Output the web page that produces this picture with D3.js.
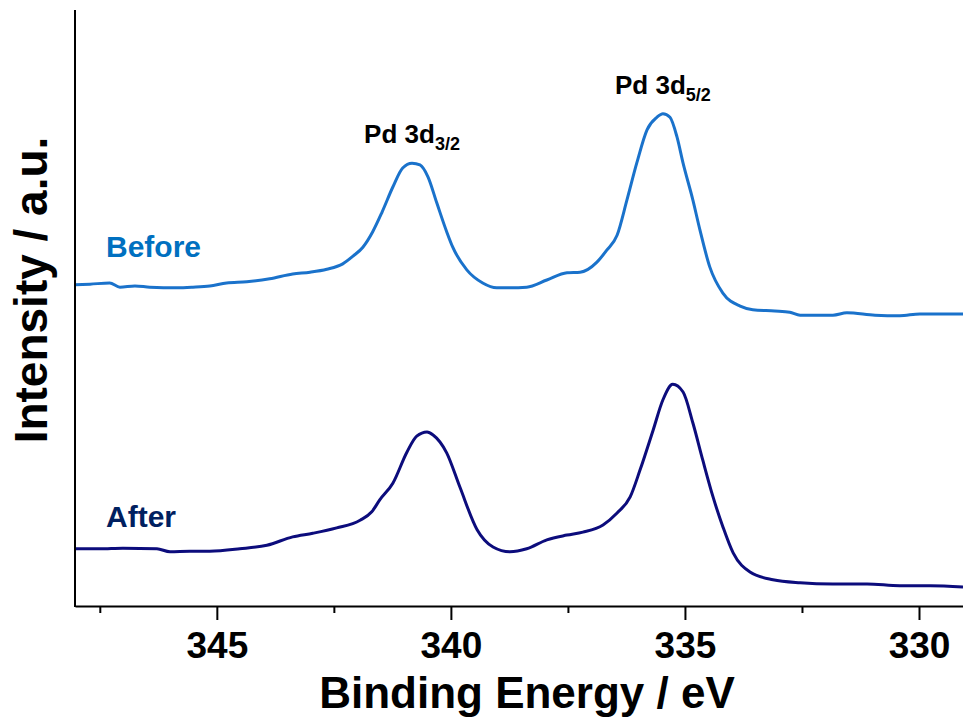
<!DOCTYPE html>
<html>
<head>
<meta charset="utf-8">
<script src="https://cdn.jsdelivr.net/npm/d3@7"></script>
<style>
  html, body { margin: 0; padding: 0; background: #fff; }
  svg text { font-family: "Liberation Sans", Arial, sans-serif; font-weight: bold; }
</style>
</head>
<body>
<div id="chart"></div>
<script>
// Pd 3d XPS spectra, before / after (binding energy in eV, intensity a.u.)
const beforeEnergy = [348.03, 347.71, 347.29, 347.07, 346.75, 346.43, 345.85, 345.51, 345.15, 344.79,
  344.36, 343.87, 343.38, 343.01, 342.65, 342.31, 342.09, 341.88, 341.67, 341.47,
  341.24, 341.03, 340.83, 340.66, 340.49, 340.30, 340.09, 339.96, 339.66, 339.32,
  339.02, 338.74, 338.38, 337.95, 337.52, 337.24, 336.88, 336.67, 336.45, 336.24,
  336.03, 335.81, 335.60, 335.47, 335.32, 335.17, 335.04, 334.83, 334.68, 334.47,
  334.19, 333.82, 333.55, 333.08, 332.76, 332.54, 331.84, 331.54, 330.94, 330.41,
  329.98, 329.44, 329.06];
const beforeIntensity = [53.9, 54.0, 54.2, 53.5, 53.7, 53.5, 53.4, 53.5, 53.7, 54.2,
  54.4, 54.9, 55.7, 56.0, 56.5, 57.4, 58.7, 60.2, 62.8, 66.1,
  70.3, 73.5, 74.3, 74.0, 72.0, 67.6, 62.8, 60.2, 56.4, 54.2,
  53.4, 53.4, 53.5, 54.7, 55.9, 56.0, 57.7, 59.7, 62.2, 68.1,
  74.3, 79.9, 82.0, 82.6, 82.0, 78.7, 74.3, 68.1, 63.1, 56.9,
  52.5, 50.3, 49.7, 49.5, 49.3, 48.8, 48.8, 49.2, 48.8, 48.7,
  49.0, 49.0, 49.0];

const afterEnergy = [348.03, 347.50, 347.01, 346.28, 346.00, 345.58, 345.15, 344.51, 343.93, 343.38,
  342.95, 342.44, 341.94, 341.69, 341.52, 341.24, 340.94, 340.73, 340.51, 340.38,
  340.09, 339.81, 339.44, 339.10, 338.74, 338.38, 337.95, 337.52, 337.18, 336.75,
  336.45, 336.17, 335.96, 335.68, 335.47, 335.26, 335.04, 334.83, 334.62, 334.40,
  334.19, 333.97, 333.61, 333.12, 332.54, 331.84, 331.11, 330.41, 329.76, 329.06];
const afterIntensity = [9.6, 9.6, 9.7, 9.6, 9.1, 9.2, 9.2, 9.6, 10.2, 11.6,
  12.2, 13.1, 14.4, 15.8, 17.8, 20.6, 25.8, 28.5, 29.2, 28.7,
  25.7, 20.0, 12.8, 9.9, 9.1, 9.6, 11.1, 11.9, 12.4, 13.6,
  15.6, 18.3, 22.8, 29.5, 34.6, 37.2, 35.9, 30.7, 24.5, 18.3,
  13.3, 8.9, 5.7, 4.4, 3.9, 3.7, 3.7, 3.4, 3.4, 3.2];

const majorTicks = [345, 340, 335, 330];
const minorTicks = [347.5, 342.5, 337.5, 332.5];
const peakNames = ["3/2", "5/2"];
const peakEnergy = [340.83, 335.47];
const seriesNames = ["Before", "After"];

const width = 963, height = 720;
const margin = { top: 10, right: 0, bottom: 114, left: 75 };

const svg = d3.select('#chart').append('svg')
  .attr('width', width)
  .attr('height', height);

const x = d3.scaleLinear()
  .domain([348.03, 329.06])
  .range([margin.left, width - margin.right]);

const y = d3.scaleLinear()
  .domain([0, 100])
  .range([height - margin.bottom, margin.top]);

const line = d3.line()
  .curve(d3.curveMonotoneX)
  .x(d => x(d[0]))
  .y(d => y(d[1]));

const series = [
  { name: seriesNames[0], pts: d3.zip(beforeEnergy, beforeIntensity), line: '#1a72cb', text: '#0070c0', labelY: 257 },
  { name: seriesNames[1], pts: d3.zip(afterEnergy, afterIntensity), line: '#0c0c7c', text: '#002060', labelY: 527 }
];

// curves
svg.selectAll('path.curve')
  .data(series)
  .enter().append('path')
  .attr('class', 'curve')
  .attr('d', d => line(d.pts))
  .attr('fill', 'none')
  .attr('stroke', d => d.line)
  .attr('stroke-width', 3)
  .attr('stroke-linejoin', 'round');

// series labels
svg.selectAll('text.series')
  .data(series)
  .enter().append('text')
  .attr('class', 'series')
  .attr('x', 106)
  .attr('y', d => d.labelY)
  .attr('fill', d => d.text)
  .style('font-size', '30px')
  .text(d => d.name);

// peak labels on the Before curve
const beforeAt = e => beforeIntensity[beforeEnergy.indexOf(e)];
const peaks = svg.selectAll('text.peak')
  .data(peakNames)
  .enter().append('text')
  .attr('class', 'peak')
  .attr('x', (d, i) => x(peakEnergy[i]))
  .attr('y', (d, i) => y(beforeAt(peakEnergy[i])) - 20)
  .attr('text-anchor', 'middle')
  .attr('fill', '#000')
  .style('font-size', '26px');
peaks.append('tspan').text('Pd 3d');
peaks.append('tspan')
  .attr('dy', 7)
  .style('font-size', '18px')
  .text(d => d);

// axes
const axisY = height - margin.bottom;

const xAxis = svg.append('g')
  .attr('transform', `translate(0,${axisY})`)
  .call(d3.axisBottom(x).tickValues(majorTicks).tickSize(14).tickSizeOuter(0).tickFormat(d3.format('d')));
xAxis.select('.domain').attr('stroke-width', 2);
xAxis.selectAll('.tick line').attr('stroke-width', 2);
xAxis.selectAll('.tick text')
  .attr('y', 52)
  .attr('dy', 0)
  .attr('fill', '#000')
  .style('font-size', '37px')
  .style('font-family', '"Liberation Sans", Arial, sans-serif')
  .style('font-weight', 'bold');

const xMinor = svg.append('g')
  .attr('transform', `translate(0,${axisY})`)
  .call(d3.axisBottom(x).tickValues(minorTicks).tickSize(7).tickSizeOuter(0).tickFormat(''));
xMinor.select('.domain').remove();
xMinor.selectAll('.tick line').attr('stroke-width', 2);

svg.append('line')
  .attr('x1', margin.left).attr('x2', margin.left)
  .attr('y1', margin.top).attr('y2', axisY + 1)
  .attr('stroke', '#000')
  .attr('stroke-width', 2);

// axis titles
svg.append('text')
  .attr('x', 527)
  .attr('y', 708)
  .attr('text-anchor', 'middle')
  .style('font-size', '44px')
  .text('Binding Energy / eV');

svg.append('text')
  .attr('transform', 'translate(47,290) rotate(-90)')
  .attr('text-anchor', 'middle')
  .style('font-size', '46px')
  .text('Intensity / a.u.');
</script>
</body>
</html>
